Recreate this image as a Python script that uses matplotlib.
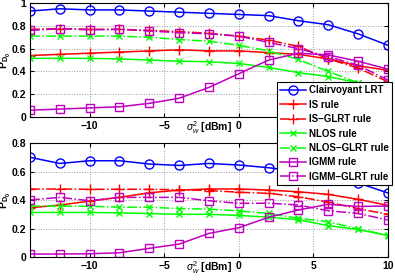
import matplotlib
matplotlib.use("Agg")
import matplotlib.pyplot as plt

plt.rcParams['font.family'] = ['Liberation Sans', 'DejaVu Sans']
plt.rcParams['mathtext.fontset'] = 'custom'
plt.rcParams['mathtext.rm'] = 'Liberation Sans'
plt.rcParams['mathtext.it'] = 'Liberation Sans:italic'
plt.rcParams['mathtext.bf'] = 'Liberation Sans:bold'

# noise power sigma_w^2 in dBm
x = [-14, -12, -10, -8, -6, -4, -2, 0, 2, 4, 6, 8, 10]

# upper panel
clair_top = [0.93, 0.95, 0.94, 0.94, 0.93, 0.92, 0.91, 0.90, 0.89, 0.845, 0.81, 0.73, 0.63]
is_top = [0.54, 0.55, 0.56, 0.57, 0.58, 0.59, 0.58, 0.58, 0.565, 0.55, 0.51, 0.45, 0.41]
is_glrt_top = [0.77, 0.775, 0.77, 0.77, 0.76, 0.75, 0.735, 0.71, 0.675, 0.62, 0.51, 0.43, 0.31]
nlos_top = [0.515, 0.515, 0.515, 0.51, 0.50, 0.49, 0.485, 0.47, 0.435, 0.39, 0.355, 0.30, 0.24]
nlos_glrt_top = [0.71, 0.71, 0.71, 0.71, 0.70, 0.68, 0.665, 0.63, 0.58, 0.505, 0.40, 0.30, 0.20]
igmm_top = [0.06, 0.07, 0.08, 0.09, 0.12, 0.165, 0.26, 0.38, 0.50, 0.56, 0.545, 0.49, 0.42]
igmm_glrt_top = [0.76, 0.775, 0.765, 0.77, 0.755, 0.74, 0.73, 0.71, 0.655, 0.60, 0.53, 0.455, 0.325]

# lower panel
clair_bot = [0.70, 0.657, 0.676, 0.676, 0.653, 0.643, 0.657, 0.646, 0.627, 0.60, 0.57, 0.52, 0.45]
is_bot = [0.346, 0.365, 0.393, 0.419, 0.451, 0.47, 0.478, 0.478, 0.47, 0.458, 0.44, 0.405, 0.363]
is_glrt_bot = [0.477, 0.478, 0.475, 0.476, 0.475, 0.473, 0.467, 0.455, 0.447, 0.423, 0.385, 0.34, 0.30]
nlos_bot = [0.313, 0.313, 0.313, 0.31, 0.305, 0.30, 0.30, 0.292, 0.28, 0.262, 0.22, 0.194, 0.15]
nlos_glrt_bot = [0.358, 0.358, 0.356, 0.35, 0.35, 0.34, 0.336, 0.324, 0.306, 0.272, 0.248, 0.196, 0.154]
igmm_bot = [0.021, 0.021, 0.023, 0.03, 0.061, 0.091, 0.166, 0.206, 0.279, 0.33, 0.37, 0.355, 0.358]
igmm_glrt_bot = [0.40, 0.419, 0.395, 0.419, 0.419, 0.419, 0.395, 0.377, 0.378, 0.365, 0.325, 0.306, 0.26]

labels = ["Clairvoyant LRT", "IS rule", "IS\u2212GLRT rule", "NLOS rule",
          "NLOS\u2212GLRT rule", "IGMM rule", "IGMM\u2212GLRT rule"]
styles = [("b", "-", "o"), ("r", "-", "+"), ("r", "-.", "+"), ("#00ff00", "-", "x"),
          ("#00ff00", "-.", "x"), ("m", "-", "s"), ("m", "-.", "s")]
msizes = [6.5, 7.5, 7.5, 5, 5, 5.5, 5.5]

fig = plt.figure(figsize=(3.95, 2.8), dpi=100)
ax1 = fig.add_axes([0.076, 0.582, 0.906, 0.407])
ax2 = fig.add_axes([0.076, 0.082, 0.906, 0.407])

panels = [
    (ax1, [clair_top, is_top, is_glrt_top, nlos_top, nlos_glrt_top, igmm_top, igmm_glrt_top], 1.0),
    (ax2, [clair_bot, is_bot, is_glrt_bot, nlos_bot, nlos_glrt_bot, igmm_bot, igmm_glrt_bot], 0.8),
]

handles = []
for ax, series, ymax in panels:
    hs = []
    for y, (c, ls, mk), ms, lab in zip(series, styles, msizes, labels):
        h, = ax.plot(x, y, color=c, linestyle=ls, marker=mk, markersize=ms,
                     markerfacecolor="none", markeredgecolor=c, markeredgewidth=1.0,
                     linewidth=1.1, label=lab)
        hs.append(h)
    handles = hs
    ax.set_xlim(-14, 10)
    ax.set_ylim(0, ymax)
    ax.set_xticks([-10, -5, 0, 5, 10])
    ax.set_xticklabels(["\u221210", "\u22125", "0", "5", "10"])
    ax.grid(True, linestyle=":", color="#999999", linewidth=0.7)
    ax.tick_params(direction="in", top=True, right=True, length=3, pad=2.5, labelsize=7.5)
    for s in ax.spines.values():
        s.set_linewidth(0.8)
    ax.set_xlabel(r"$\sigma_w^2$ [dBm]", fontsize=7.5, fontweight="bold")
    ax.xaxis.set_label_coords(0.5, -0.02)
    ax.set_ylabel(r"$\mathbf{P}_{\mathbf{D}_\mathbf{0}}$", fontsize=7.5)
    ax.yaxis.set_label_coords(-0.048, 0.5)

ax1.set_yticks([0, 0.2, 0.4, 0.6, 0.8, 1])
ax1.set_yticklabels(["0", "0.2", "0.4", "0.6", "0.8", "1"])
ax2.set_yticks([0, 0.2, 0.4, 0.6, 0.8])
ax2.set_yticklabels(["0", "0.2", "0.4", "0.6", "0.8"])
for ax in (ax1, ax2):
    for t in ax.get_xticklabels() + ax.get_yticklabels():
        t.set_fontweight("bold")

leg = fig.legend(handles=handles, loc="upper right", bbox_to_anchor=(0.992, 0.707),
                 numpoints=1, fancybox=False, framealpha=1, edgecolor="black",
                 prop={"size": 7, "weight": "bold"}, handlelength=2.6,
                 handletextpad=0.3, labelspacing=0.45, borderpad=0.35, borderaxespad=0)
leg.get_frame().set_linewidth(0.8)

fig.savefig("out.png", dpi=100)
